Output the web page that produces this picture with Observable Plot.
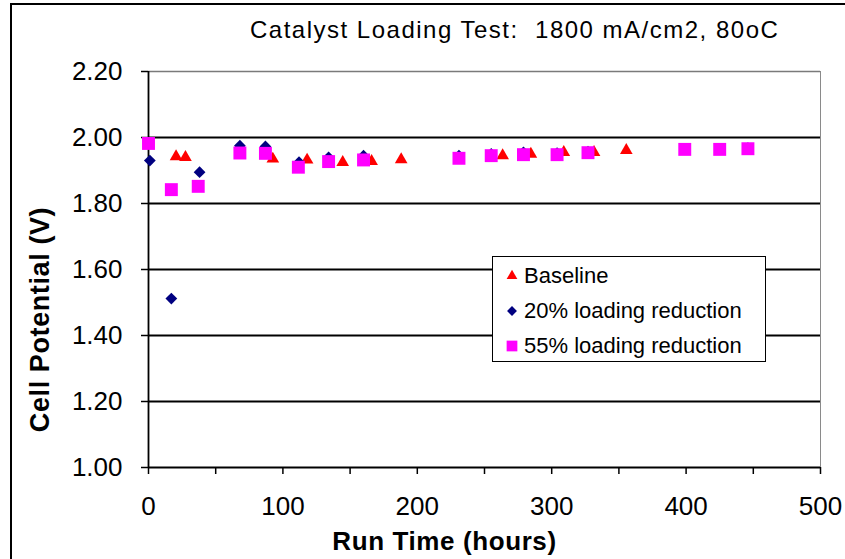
<!DOCTYPE html>
<html>
<head>
<meta charset="utf-8">
<script src="https://cdn.jsdelivr.net/npm/d3@7"></script>
<script src="https://cdn.jsdelivr.net/npm/@observablehq/plot@0.6"></script>
<style>
  html, body { margin: 0; padding: 0; background: #fff; }
  #wrap { position: relative; width: 845px; height: 559px; overflow: hidden; font-family: "Liberation Sans", Arial, sans-serif; }
  #border { position: absolute; left: 10px; top: 3px; width: 900px; height: 600px; border: 2px solid #000; box-sizing: border-box; }
  #title { position: absolute; left: 250px; top: 16px; white-space: nowrap; font-family: "Liberation Sans", Arial, sans-serif; font-size: 24px; letter-spacing: 1.5px; color: #000; }
  #legend { position: absolute; left: 492px; top: 256px; width: 274px; height: 106px; border: 1.5px solid #000; box-sizing: border-box; background: #fff; font-size: 22px; }
  .item { position: absolute; left: 13px; height: 26px; display: flex; align-items: center; }
  .item svg { margin-right: 6px; }
</style>
</head>
<body>
<div id="wrap">
  <div id="border"></div>
  <div id="chart"></div>
  <div id="title">Catalyst Loading Test:&nbsp; 1800 mA/cm2, 80oC</div>
  <div id="legend"></div>
</div>
<script>
const seriesNames = ["Baseline", "20% loading reduction", "55% loading reduction"];
const seriesColors = ["#ff0000", "#000080", "#ff00ff"];

const baselineHours = [20.5, 27.5, 92.5, 118, 144.5, 166, 188, 263.5, 284.5, 309, 331.5, 355.5];
const baselineVolts = [1.942, 1.940, 1.935, 1.932, 1.925, 1.928, 1.933, 1.945, 1.950, 1.955, 1.955, 1.961];

const red20Hours = [1, 17, 38, 68, 87, 112, 134, 160, 231, 255, 279, 304, 327, 399, 446];
const red20Volts = [1.930, 1.512, 1.895, 1.975, 1.973, 1.925, 1.940, 1.945, 1.945, 1.950, 1.955, 1.953, 1.957, 1.965, 1.968];

const red55Hours = [0, 17, 37, 68, 87, 111.5, 134, 160, 231, 255, 279, 304, 327, 399, 425, 446];
const red55Volts = [1.982, 1.842, 1.852, 1.953, 1.952, 1.910, 1.927, 1.932, 1.937, 1.945, 1.948, 1.948, 1.954, 1.964, 1.964, 1.966];

const yTicks = [1.0, 1.2, 1.4, 1.6, 1.8, 2.0, 2.2];
const yGrid = [1.2, 1.4, 1.6, 1.8, 2.0];
const xTickLabels = [0, 100, 200, 300, 400, 500];
const xTickMarks = [0, 50, 100, 150, 200, 250, 300, 350, 400, 450, 500];

const base = baselineHours.map((h, i) => ({h, v: baselineVolts[i]}));
const r20 = red20Hours.map((h, i) => ({h, v: red20Volts[i]}));
const r55 = red55Hours.map((h, i) => ({h, v: red55Volts[i]}));

const chart = Plot.plot({
  width: 845,
  height: 559,
  marginLeft: 148,
  marginRight: 25,
  marginTop: 71,
  marginBottom: 92,
  style: { fontFamily: "'Liberation Sans', Arial, sans-serif", background: "transparent", overflow: "visible" },
  x: { domain: [0, 500] },
  y: { domain: [1.0, 2.2] },
  marks: [
    Plot.ruleY(yGrid, { stroke: "#000", strokeWidth: 1.8 }),
    Plot.ruleY([2.2], { stroke: "#7a7a7a", strokeWidth: 1.5 }),
    Plot.ruleX([500], { stroke: "#8a8a8a", strokeWidth: 1 }),
    Plot.axisY({ ticks: yTicks, tickSize: 7, tickPadding: 19, tickFormat: d3.format(".2f"), fontSize: 26, label: null, stroke: "#000", strokeWidth: 1.5 }),
    Plot.axisX({ ticks: xTickMarks, tickSize: 7, tickFormat: () => "", label: null, stroke: "#000", strokeWidth: 1.5 }),
    Plot.axisX({ ticks: xTickLabels, tickSize: 0, tickPadding: 29, fontSize: 26, label: null, tickFormat: d => String(d) }),
    Plot.ruleY([1.0], { stroke: "#000", strokeWidth: 1.8 }),
    Plot.ruleX([0], { stroke: "#000", strokeWidth: 1.8 }),
    Plot.dot(base, { x: "h", y: "v", symbol: "triangle", r: 4.7, fill: seriesColors[0], stroke: "none" }),
    Plot.dot(r20, { x: "h", y: "v", symbol: "diamond2", r: 5.3, fill: seriesColors[1], stroke: "none" }),
    Plot.dot(r55, { x: "h", y: "v", symbol: "square", r: 7.3, fill: seriesColors[2], stroke: "none" }),
    Plot.text(["Run Time (hours)"], { frameAnchor: "bottom", textAnchor: "middle", dx: -40, dy: 82, text: d => d, fontSize: 26, fontWeight: "bold", className: "ttl" }),
    Plot.text(["Cell Potential (V)"], { frameAnchor: "left", textAnchor: "middle", dx: -108, dy: 50, rotate: -90, text: d => d, fontSize: 27, fontWeight: "bold", className: "ttl" })
  ]
});
document.getElementById("chart").appendChild(chart);
d3.select(chart).selectAll("g.ttl text, text.ttl").style("letter-spacing", "0.6px");

// legend
const legend = document.getElementById("legend");
const symbols = [d3.symbolTriangle, d3.symbolDiamond2, d3.symbolSquare];
const sizes = [50, 62, 115];
const tops = [6, 41, 76];
seriesNames.forEach((name, i) => {
  const item = document.createElement("div");
  item.className = "item";
  item.style.top = tops[i] + "px";
  const s = d3.create("svg").attr("width", 12).attr("height", 14);
  s.append("path").attr("transform", "translate(6,7)").attr("d", d3.symbol(symbols[i], sizes[i])()).attr("fill", seriesColors[i]);
  item.appendChild(s.node());
  const t = document.createElement("span");
  t.textContent = name;
  item.appendChild(t);
  legend.appendChild(item);
});
</script>
</body>
</html>
